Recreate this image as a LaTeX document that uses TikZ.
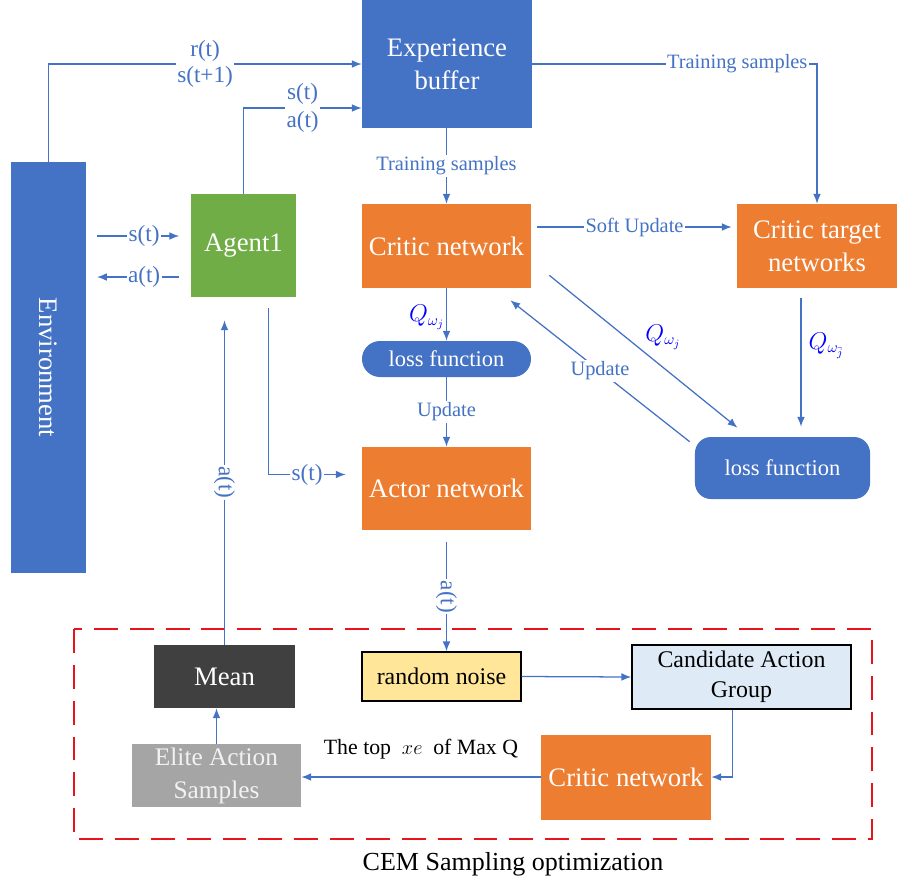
\documentclass[tikz,border=0pt]{standalone}
\usepackage{fontspec}
\setmainfont{Liberation Serif}
\usetikzlibrary{calc, positioning, arrows.meta}

\definecolor{boxblue}{HTML}{4472C4}
\definecolor{boxorange}{HTML}{ED7D31}
\definecolor{boxgreen}{HTML}{70AD47}
\definecolor{boxdark}{HTML}{404040}
\definecolor{boxgray}{HTML}{A5A5A5}
\definecolor{boxyellow}{HTML}{FFE699}
\definecolor{boxcyan}{HTML}{DEEBF7}
\definecolor{cemred}{HTML}{E8141B}

\tikzset{
  block/.style={rectangle, inner sep=2pt, align=center, text=white, font=\fontsize{19}{23.5}\selectfont},
  flow/.style={draw=boxblue, line width=0.9pt, -{Latex[length=7pt, width=5.5pt]}},
  sig/.style={fill=white, inner sep=1pt, text=boxblue, align=center, font=\fontsize{16.5}{19.5}\selectfont},
  tag/.style={fill=white, inner sep=1pt, text=boxblue, font=\fontsize{14.5}{16}\selectfont},
  qval/.style={text=blue, inner sep=1pt, font=\fontsize{16}{18}\selectfont},
}

\begin{document}
\begin{tikzpicture}[x=0.025cm, y=-0.025cm]

  \useasboundingbox (0,0) rectangle (897,884);

  % main blocks
  \node[block, fill=boxblue, rotate=-90, minimum width=10.275cm, minimum height=1.85cm] (env) at (48.5,367.5) {Environment};
  \node[block, fill=boxblue, minimum width=4.25cm, minimum height=3.2cm] (exp-buffer) at (447,64) {Experience\\buffer};
  \node[block, fill=boxgreen, minimum width=2.6cm, minimum height=2.575cm] (agent) at (243.5,245.5) {Agent1};
  \node[block, fill=boxorange, minimum width=4.225cm, minimum height=2.1cm] (critic-net) at (446.5,246) {Critic network};
  \node[block, fill=boxorange, minimum width=4.0cm, minimum height=2.1cm] (critic-target) at (817,246) {Critic target\\networks};
  \node[block, fill=boxblue, minimum width=4.225cm, minimum height=0.9cm, rounded corners=0.45cm, font=\fontsize{16}{18}\selectfont] (loss-left) at (446.5,359) {loss function};
  \node[block, fill=boxblue, minimum width=4.375cm, minimum height=1.55cm, rounded corners=0.4cm, font=\fontsize{16}{18}\selectfont] (loss-right) at (782.5,468) {loss function};
  \node[block, fill=boxorange, minimum width=4.225cm, minimum height=2.075cm] (actor-net) at (446.5,488.5) {Actor network};

  % CEM part
  \draw[cemred, line width=1.4pt, dash pattern=on 17pt off 8.5pt] (74,629) rectangle (872,839);
  \node[block, fill=boxdark, minimum width=3.525cm, minimum height=1.575cm] (mean) at (224.5,676.5) {Mean};
  \node[block, fill=boxyellow, draw=black, line width=1pt, text=black, minimum width=3.975cm, minimum height=1.225cm, font=\fontsize{17}{20}\selectfont] (noise) at (441.5,676.5) {random noise};
  \node[block, fill=boxcyan, draw=black, line width=1pt, text=black, minimum width=5.475cm, minimum height=1.6cm, font=\fontsize{17}{21}\selectfont] (candidate) at (741.5,677) {Candidate Action\\Group};
  \node[block, fill=boxorange, minimum width=4.25cm, minimum height=2.125cm] (critic-cem) at (626,777) {Critic network};
  \node[block, fill=boxgray, text=white!95!black, minimum width=4.225cm, minimum height=1.575cm, font=\fontsize{18}{23.5}\selectfont] (elite) at (216.5,775.5) {Elite Action\\Samples};
  \node[font=\fontsize{15.5}{18}\selectfont] (top-xe) at (421,749) {The top\enspace$xe$\enspace of Max Q};
  \node[font=\fontsize{18.5}{22}\selectfont] (cem-title) at (513,864) {CEM Sampling optimization};

  % environment and agent
  \coordinate (st-from) at (97,236);
  \coordinate (at-to)   at (97,277);
  \draw[flow] (env.west) |- node[sig, pos=0.75, font=\fontsize{16.5}{18}\selectfont] {r(t)\\s(t+1)} (exp-buffer.west);
  \draw[flow] (agent.north) |- node[sig, pos=0.75] {s(t)\\a(t)} ($(exp-buffer.west)+(0,44)$);
  \draw[flow, shorten >=0.3cm] (st-from) -- node[sig] {s(t)} (st-from -| agent.west);
  \draw[flow, shorten <=0.3cm] (at-to -| agent.west) -- node[sig] {a(t)} (at-to);

  % critic side
  \draw[flow] (exp-buffer.south -| critic-net.north) -- node[tag] {Training samples} (critic-net.north);
  \draw[flow] (exp-buffer.east) -| node[tag, pos=0.36] {Training samples} (critic-target.north);
  \draw[flow] ($(critic-net.east)+(6,-19)$) -- node[tag] {Soft Update} ($(critic-target.west)+(-5,-19)$);
  \draw[flow] (critic-net.south) -- node[qval, left, pos=0.55] {$Q_{\omega_j}$} (loss-left.north);
  \draw[flow] (loss-left.south) -- node[tag] {Update} (actor-net.north);
  \draw[flow] ([xshift=-0.4cm, yshift=-0.25cm]critic-target.south) -- node[qval, right=4pt, pos=0.37] {$Q_{\omega_{\bar{j}}}$} ([xshift=-0.4cm, yshift=0.25cm]critic-target.south |- loss-right.north);
  \draw[flow] ($(critic-net.south east)+(18,-13)$) -- node[qval, pos=0.5, anchor=south west] {$Q_{\omega_j}$} ($(loss-right.north)+(-45,-9)$);
  \draw[flow] ($(loss-right.north west)+(-5,5)$) -- node[tag] {Update} ($(critic-net.south east)+(-21,12)$);

  % actor side
  \draw[flow] ($(agent.south)+(25,11)$) |- node[sig, pos=0.75] {s(t)} ($(actor-net.west)+(-16,-14)$);
  \draw[flow] (mean.north) -- node[sig, rotate=-90] {a(t)} ($(mean.north |- agent.south)+(0,23)$);
  \draw[flow] ($(actor-net.south)+(0,12)$) -- node[sig, rotate=-90] {a(t)} (actor-net.south |- noise.north);

  % CEM loop
  \draw[flow] (noise.east) -- (candidate.west);
  \draw[flow] ($(candidate.south)+(-9,0)$) |- (critic-cem.east);
  \draw[flow] (critic-cem.west) -- (critic-cem.west -| elite.east);
  \draw[flow] (elite.north) -- (elite.north |- mean.south);

\end{tikzpicture}
\end{document}
